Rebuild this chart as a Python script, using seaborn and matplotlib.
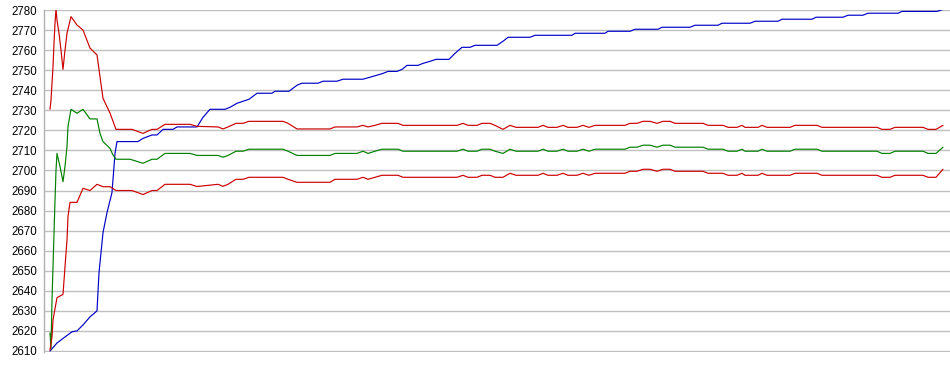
import matplotlib
matplotlib.use("Agg")
import matplotlib.pyplot as plt
import seaborn as sns
import pandas as pd

# ---- data (x = sample index, y = value) ----
blue_x = [0, 7, 15, 22, 27, 33, 40, 47, 49, 53, 57, 62, 65, 67, 88, 93, 102, 107, 113, 123,
          127, 147, 153, 160, 175, 180, 187, 193, 199, 207, 222, 225, 239, 247, 252, 268, 273,
          287, 293, 313, 320, 327, 333, 338, 347, 352, 357, 368, 373, 380, 386, 399, 405, 412,
          420, 425, 447, 453, 458, 480, 485, 522, 525, 555, 558, 580, 585, 608, 612, 640, 645,
          668, 672, 700, 705, 728, 732, 762, 766, 793, 798, 813, 818, 848, 852, 887, 893]
blue_y = [2610, 2614, 2617, 2619.6, 2620, 2623, 2627, 2630, 2649, 2669, 2679, 2689, 2708.5,
          2714.4, 2714.4, 2716, 2717.7, 2717.7, 2720.5, 2720.5, 2721.7, 2721.7, 2726.5, 2730.5,
          2730.5, 2731.5, 2733.5, 2734.5, 2735.5, 2738.5, 2738.5, 2739.5, 2739.5, 2742.5,
          2743.5, 2743.5, 2744.5, 2744.5, 2745.5, 2745.5, 2746.5, 2747.5, 2748.4, 2749.4,
          2749.4, 2750.4, 2752.4, 2752.4, 2753.4, 2754.4, 2755.4, 2755.4, 2758.4, 2761.4,
          2761.4, 2762.4, 2762.4, 2764.4, 2766.4, 2766.4, 2767.4, 2767.4, 2768.4, 2768.4,
          2769.4, 2769.4, 2770.4, 2770.4, 2771.4, 2771.4, 2772.4, 2772.4, 2773.4, 2773.4,
          2774.4, 2774.4, 2775.4, 2775.4, 2776.4, 2776.4, 2777.4, 2777.4, 2778.4, 2778.4,
          2779.3, 2779.3, 2780.3]

# shared x positions for the later part of the three band series
band_tail_x = [140, 147, 168, 173, 178, 186, 193, 199, 233, 238, 247, 280, 285, 307, 313, 318,
               325, 332, 348, 353, 407, 413, 418, 427, 432, 440, 445, 453, 460, 466, 488, 493,
               498, 507, 513, 518, 527, 533, 539, 545, 575, 580, 587, 593, 600, 607, 613, 620,
               625, 653, 658, 673, 678, 687, 692, 695, 708, 712, 717, 740, 745, 767, 772, 827,
               832, 840, 845, 873, 878, 886, 893]

upper_x = [0, 1, 2, 3, 4, 5, 6, 7, 9, 11, 13, 15, 17, 21, 27, 33, 40, 47, 50, 53, 60, 66,
           82, 93, 102, 107, 115] + band_tail_x
upper_y = [2730.5, 2735, 2743.5, 2751.7, 2763.4, 2773.4, 2780.3, 2775, 2768.4, 2760, 2750.4,
           2760, 2768.4, 2776.7, 2772.5, 2770, 2761, 2757.6, 2746.7, 2736, 2728.6, 2720.5,
           2720.5, 2718.5, 2720.5, 2720.5, 2723,
           2723, 2722, 2721.7, 2720.7, 2721.7, 2723.5, 2723.5, 2724.5, 2724.5, 2723.5, 2720.7,
           2720.7, 2721.7, 2721.7, 2722.5, 2721.7, 2722.5, 2723.5, 2723.5, 2722.5, 2722.5,
           2723.5, 2722.5, 2722.5, 2723.5, 2723.5, 2722.5, 2720.5, 2722.5, 2721.5, 2721.5,
           2722.5, 2721.5, 2721.5, 2722.5, 2721.5, 2721.5, 2722.5, 2721.5, 2722.5, 2722.5,
           2723.5, 2723.5, 2724.5, 2724.5, 2723.5, 2724.5, 2724.5, 2723.5, 2723.5, 2722.5,
           2722.5, 2721.5, 2721.5, 2722.5, 2721.5, 2721.5, 2722.5, 2721.5, 2721.5, 2722.5,
           2722.5, 2721.5, 2721.5, 2720.5, 2720.5, 2721.5, 2721.5, 2720.5, 2720.5, 2722.5]

mid_x = [0, 1, 2, 3, 4, 5, 6, 7, 10, 13, 15, 17, 18, 21, 27, 33, 40, 47, 50, 53, 60, 63, 66,
         80, 93, 102, 107, 115] + band_tail_x
mid_y = [2619, 2611, 2635.4, 2652, 2668.6, 2685, 2700, 2708.5, 2702, 2694.4, 2702, 2712, 2722,
         2730.5, 2728.5, 2730.5, 2725.7, 2725.7, 2718.5, 2714.4, 2711, 2707.7, 2705.6, 2705.6,
         2703.6, 2705.6, 2705.6, 2708.5,
         2708.5, 2707.5, 2707.5, 2706.6, 2707.5, 2709.6, 2709.6, 2710.6, 2710.6, 2709.6,
         2707.5, 2707.5, 2708.5, 2708.5, 2709.6, 2708.5, 2709.6, 2710.6, 2710.6, 2709.6,
         2709.6, 2710.6, 2709.6, 2709.6, 2710.6, 2710.6, 2709.6, 2708.5, 2710.6, 2709.6,
         2709.6, 2710.6, 2709.6, 2709.6, 2710.6, 2709.6, 2709.6, 2710.6, 2709.6, 2710.6,
         2710.6, 2711.6, 2711.6, 2712.6, 2712.6, 2711.6, 2712.6, 2712.6, 2711.6, 2711.6,
         2710.6, 2710.6, 2709.6, 2709.6, 2710.6, 2709.6, 2709.6, 2710.6, 2709.6, 2709.6,
         2710.6, 2710.6, 2709.6, 2709.6, 2708.5, 2708.5, 2709.6, 2709.6, 2708.5, 2708.5,
         2711.6]

lower_x = [0, 2, 3, 7, 13, 15, 17, 18, 20, 27, 33, 40, 47, 53, 60, 66, 82, 93, 102, 107,
           115] + band_tail_x
lower_y = [2610.5, 2617, 2625.5, 2636.6, 2638.2, 2652, 2665.3, 2677, 2684.1, 2684.1, 2691.1,
           2690, 2693.1, 2691.9, 2691.9, 2690, 2690, 2688, 2690, 2690, 2693.1,
           2693.1, 2692, 2693.1, 2692.1, 2693.1, 2695.6, 2695.6, 2696.6, 2696.6, 2695.6,
           2694.1, 2694.1, 2695.6, 2695.6, 2696.6, 2695.6, 2696.6, 2697.6, 2697.6, 2696.6,
           2696.6, 2697.6, 2696.6, 2696.6, 2697.6, 2697.6, 2696.6, 2696.6, 2698.6, 2697.6,
           2697.6, 2698.6, 2697.6, 2697.6, 2698.6, 2697.6, 2697.6, 2698.6, 2697.6, 2698.6,
           2698.6, 2699.6, 2699.6, 2700.6, 2700.6, 2699.6, 2700.6, 2700.6, 2699.6, 2699.6,
           2698.6, 2698.6, 2697.6, 2697.6, 2698.6, 2697.6, 2697.6, 2698.6, 2697.6, 2697.6,
           2698.6, 2698.6, 2697.6, 2697.6, 2696.6, 2696.6, 2697.6, 2697.6, 2696.6, 2696.6,
           2700.6]

y_ticks = list(range(2610, 2781, 10))

series = [
    ("blue", blue_x, blue_y, "#0000c8"),
    ("upper", upper_x, upper_y, "#cc0000"),
    ("mid", mid_x, mid_y, "#008000"),
    ("lower", lower_x, lower_y, "#cc0000"),
]

# ---- plot ----
sns.set_style("white")
plt.rcParams["font.family"] = ["Liberation Sans", "DejaVu Sans"]

fig = plt.figure(figsize=(9.5, 3.75), dpi=100)
ax = fig.add_axes([44 / 950, 23.5 / 375, 906 / 950, 342 / 375])

for name, xs, ys, col in series:
    df = pd.DataFrame({"x": xs, "y": ys})
    sns.lineplot(data=df, x="x", y="y", ax=ax, color=col, linewidth=0.85,
                 sort=False, estimator=None, zorder=3)

ax.set_xlim(-6, 900)
ax.set_ylim(2609.75, 2780.25)
ax.set_yticks(y_ticks)
ax.set_yticklabels([str(t) for t in y_ticks])
ax.set_xticks([])
ax.set_xlabel("")
ax.set_ylabel("")
ax.grid(axis="y", color="#c0c0c0", linewidth=1.0, zorder=0)
ax.grid(axis="x", visible=False)
ax.tick_params(axis="y", length=0, pad=5, labelsize=8.3, labelcolor="black")
for s in ["top", "right", "bottom"]:
    ax.spines[s].set_visible(False)
ax.spines["left"].set_color("#b0b0b0")
ax.spines["left"].set_linewidth(1.0)

fig.savefig("out.png", dpi=100)
